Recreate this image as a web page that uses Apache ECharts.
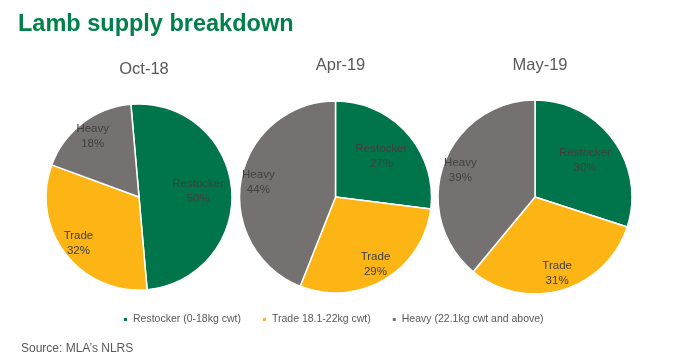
<!DOCTYPE html>
<html><head><meta charset="utf-8">
<script src="https://cdn.jsdelivr.net/npm/echarts@6/dist/echarts.min.js"></script>
<style>html,body{margin:0;padding:0;background:#fff}#c{width:700px;height:362px}</style>
</head><body><div id="c"></div>
<script>
const months = ['Oct-18', 'Apr-19', 'May-19'];
const categories = ['Restocker (0-18kg cwt)', 'Trade 18.1-22kg cwt)', 'Heavy (22.1kg cwt and above)'];
const shortNames = ['Restocker', 'Trade', 'Heavy'];
const restocker = [50, 27, 30];
const trade = [32, 29, 31];
const heavy = [18, 44, 39];

const colors = ['#00744A', '#FDB515', '#767171'];
const centers = [[139, 197], [335.5, 197], [535, 197]];
const radii = [93, 96, 97];
const startAngles = [95, 90, 90];
const titleTops = [56, 52, 52];
const labelFactor = [0.6, 0.77, 0.77];

const chart = echarts.init(document.getElementById('c'), null, {renderer: 'canvas'});
const font = 'Liberation Sans';

const series = months.map((m, i) => ({
  type: 'pie',
  center: centers[i],
  radius: radii[i],
  startAngle: startAngles[i],
  clockwise: true,
  animation: false,
  itemStyle: {borderColor: '#fff', borderWidth: 1.5},
  label: {
    position: 'inside',
    formatter: p => shortNames[p.dataIndex] + '\n' + p.value + '%',
    color: '#404040',
    fontFamily: font,
    fontSize: 11.5,
    lineHeight: 15
  },
  labelLayout: function (params) {
    const r = params.labelRect;
    const cx = centers[i][0], cy = centers[i][1];
    const mx = r.x + r.width / 2, my = r.y + r.height / 2;
    const k = labelFactor[params.dataIndex] / 0.5;
    return {x: cx + (mx - cx) * k, y: cy + (my - cy) * k};
  },
  emphasis: {disabled: true},
  data: categories.map((c, j) => ({
    name: c,
    value: [restocker, trade, heavy][j][i],
    itemStyle: {color: colors[j]}
  }))
}));

chart.setOption({
  backgroundColor: '#fff',
  title: [
    {text: 'Lamb supply breakdown', left: 13, top: 8,
     textStyle: {color: '#00814B', fontFamily: font, fontWeight: 'bold', fontSize: 23.5}},
    ...months.map((m, i) => ({
      text: m, left: centers[i][0], top: titleTops[i], textAlign: 'center',
      textStyle: {color: '#595959', fontFamily: font, fontWeight: 'normal', fontSize: 16.5}
    })),
    {text: 'Source: MLA\u2019s NLRS', left: 16, top: 338,
     textStyle: {color: '#595959', fontFamily: font, fontWeight: 'normal', fontSize: 12}}
  ],
  legend: {
    data: categories,
    left: 117, top: 309,
    icon: 'rect', itemWidth: 5, itemHeight: 5, itemGap: 20,
    textStyle: {color: '#595959', fontFamily: font, fontSize: 10.5}
  },
  series: series
});
</script></body></html>
